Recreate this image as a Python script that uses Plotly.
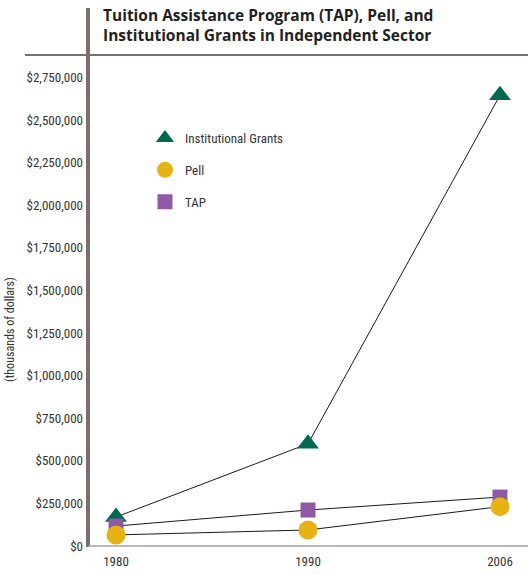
import plotly.graph_objects as go

years = ["1980", "1990", "2006"]
institutional = [170000, 600000, 2645000]
pell = [65000, 94000, 231000]
tap = [117000, 211000, 287000]

series_names = ["Institutional Grants", "Pell", "TAP"]
title_lines = ["Tuition Assistance Program (TAP), Pell, and", "Institutional Grants in Independent Sector"]
y_title = "(thousands of dollars)"

W, H = 528, 575
L, R, T, B = 88, 0, 60, 29
pw, ph = W - L - R, H - T - B

NARROW = "Liberation Sans Narrow, Arial Narrow, Roboto Condensed, Roboto, sans-serif"

fig = go.Figure()

# connecting lines
for vals in [institutional, tap, pell]:
    fig.add_trace(go.Scatter(x=years, y=vals, mode="lines",
                             line=dict(color="#1a1a1a", width=1),
                             showlegend=False, hoverinfo="skip"))

# markers
fig.add_trace(go.Scatter(x=years, y=institutional, mode="markers", name=series_names[0],
                         marker=dict(symbol="triangle-up", size=19, color="#00694F"),
                         legendrank=1, legendgroup="a"))
fig.add_trace(go.Scatter(x=years, y=tap, mode="markers", name=series_names[2],
                         marker=dict(symbol="square", size=15, color="#8E5AA6"),
                         legendrank=3, legendgroup="c"))
fig.add_trace(go.Scatter(x=years, y=pell, mode="markers", name=series_names[1],
                         marker=dict(symbol="circle", size=19, color="#E6B214"),
                         legendrank=2, legendgroup="b"))

def px_x(p):
    return (p - L) / pw

def px_y(p):
    return (H - B - p) / ph

shapes = [
    dict(type="line", xref="paper", yref="paper", x0=px_x(88), x1=px_x(88),
         y0=px_y(547), y1=px_y(8), line=dict(color="#7B6F6C", width=4)),
    dict(type="line", xref="paper", yref="paper", x0=px_x(25), x1=px_x(528),
         y0=px_y(55), y1=px_y(55), line=dict(color="#7B6F6C", width=2)),
    dict(type="line", xref="paper", yref="paper", x0=px_x(88), x1=px_x(528),
         y0=px_y(546), y1=px_y(546), line=dict(color="#A9A2A0", width=1.5)),
]

annotations = [
    dict(text="<b>" + title_lines[0] + "<br>" + title_lines[1] + "</b>",
         xref="paper", yref="paper", x=px_x(101), y=px_y(2), xanchor="left", yanchor="top",
         showarrow=False, align="left",
         font=dict(family="Open Sans, DejaVu Sans, sans-serif", size=15.5, color="#231F20", weight=800)),
    dict(text=y_title, xref="paper", yref="paper", x=px_x(10), y=px_y(330),
         textangle=-90, showarrow=False, xanchor="center", yanchor="middle",
         font=dict(family=NARROW, size=12, color="#333333")),
]

fig.update_layout(
    width=W, height=H,
    margin=dict(l=L, r=R, t=T, b=B, pad=0),
    paper_bgcolor="white", plot_bgcolor="white",
    showlegend=True,
    legend=dict(x=px_x(145), y=px_y(123), xanchor="left", yanchor="top",
                bgcolor="rgba(0,0,0,0)", tracegroupgap=12, traceorder="grouped",
                font=dict(family=NARROW, size=13, color="#333333"),
                itemwidth=30),
    xaxis=dict(type="category", range=[-0.146, 2.146], showgrid=False, zeroline=False,
               showline=False, ticks="", tickfont=dict(family=NARROW, size=13, color="#333333"),
               ticklabelstandoff=6),
    yaxis=dict(range=[0, 2852000], dtick=250000, tickprefix="$", tickformat=",d",
               showgrid=False, zeroline=False, showline=False, ticks="",
               tickfont=dict(family=NARROW, size=13, color="#333333"),
               ticklabelstandoff=4),
    shapes=shapes, annotations=annotations,
)

fig.write_html("out.html", config={"displayModeBar": False},
               post_script="document.body.style.margin='0';")
